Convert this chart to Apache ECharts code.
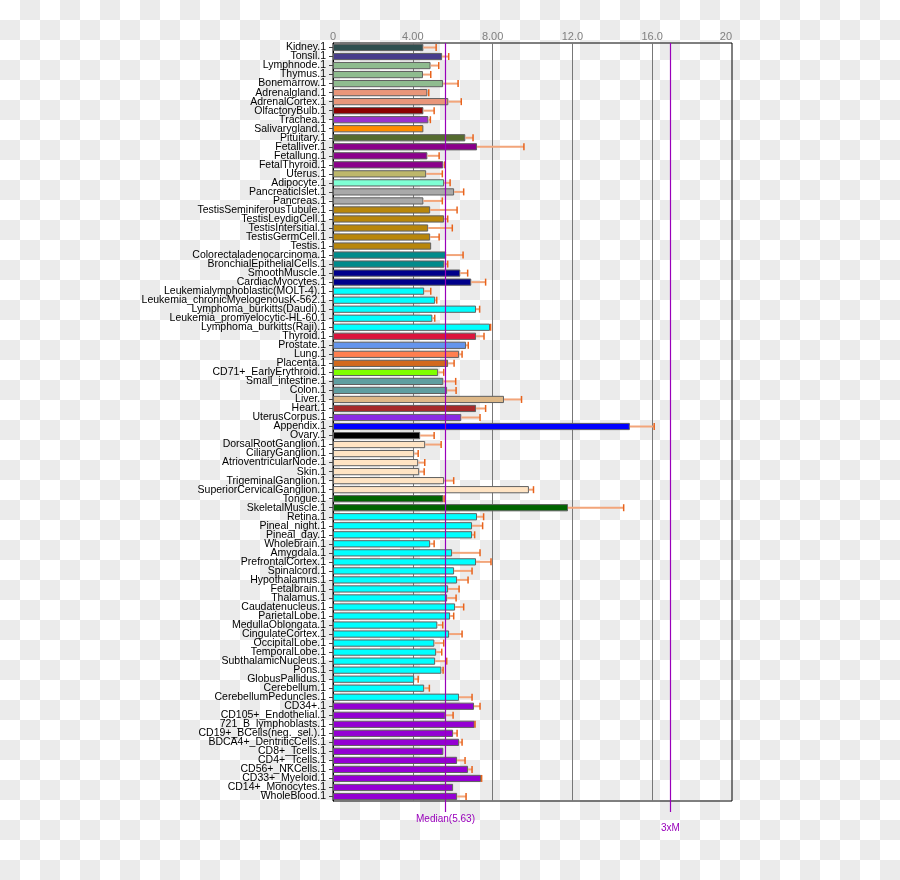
<!DOCTYPE html>
<html>
<head>
<meta charset="utf-8">
<script src="https://cdn.jsdelivr.net/npm/echarts@6/dist/echarts.min.js"></script>
<style>
html,body{margin:0;padding:0;}
body{background:repeating-conic-gradient(#ebebeb 0 25%, #ffffff 0 50%) 0 0/40px 40px;}
#chart{width:900px;height:880px;}
</style>
</head>
<body>
<div id="chart"></div>
<script>
const categories = ["Kidney.1","Tonsil.1","Lymphnode.1","Thymus.1","Bonemarrow.1","Adrenalgland.1","AdrenalCortex.1","OlfactoryBulb.1","Trachea.1","Salivarygland.1","Pituitary.1","Fetalliver.1","Fetallung.1","FetalThyroid.1","Uterus.1","Adipocyte.1","Pancreaticlslet.1","Pancreas.1","TestisSeminiferousTubule.1","TestisLeydigCell.1","TestisIntersitial.1","TestisGermCell.1","Testis.1","Colorectaladenocarcinoma.1","BronchialEpithelialCells.1","SmoothMuscle.1","CardiacMyocytes.1","Leukemialymphoblastic(MOLT-4).1","Leukemia_chronicMyelogenousK-562.1","Lymphoma_burkitts(Daudi).1","Leukemia_promyelocytic-HL-60.1","Lymphoma_burkitts(Raji).1","Thyroid.1","Prostate.1","Lung.1","Placenta.1","CD71+_EarlyErythroid.1","Small_intestine.1","Colon.1","Liver.1","Heart.1","UterusCorpus.1","Appendix.1","Ovary.1","DorsalRootGanglion.1","CiliaryGanglion.1","AtrioventricularNode.1","Skin.1","TrigeminalGanglion.1","SuperiorCervicalGanglion.1","Tongue.1","SkeletalMuscle.1","Retina.1","Pineal_night.1","Pineal_day.1","Wholebrain.1","Amygdala.1","PrefrontalCortex.1","Spinalcord.1","Hypothalamus.1","Fetalbrain.1","Thalamus.1","Caudatenucleus.1","ParietalLobe.1","MedullaOblongata.1","CingulateCortex.1","OccipitalLobe.1","TemporalLobe.1","SubthalamicNucleus.1","Pons.1","GlobusPallidus.1","Cerebellum.1","CerebellumPeduncles.1","CD34+.1","CD105+_Endothelial.1","721_B_lymphoblasts.1","CD19+_BCells(neg._sel.).1","BDCA4+_DentriticCells.1","CD8+_Tcells.1","CD4+_Tcells.1","CD56+_NKCells.1","CD33+_Myeloid.1","CD14+_Monocytes.1","WholeBlood.1"];

const values = [4.53,5.47,4.89,4.51,5.52,4.73,5.78,4.53,4.78,4.53,6.63,7.22,4.73,5.53,4.67,5.57,6.07,4.53,4.87,5.57,4.77,4.87,4.92,5.67,5.58,6.38,6.93,4.57,5.12,7.17,4.98,7.87,7.17,6.67,6.32,5.77,5.27,5.53,5.72,8.57,7.17,6.43,14.88,4.37,4.62,4.07,4.27,4.32,5.57,9.82,5.53,11.78,7.22,6.97,6.97,4.87,5.97,7.17,6.07,6.22,5.77,5.72,6.12,5.87,5.23,5.82,5.08,5.17,5.12,5.43,4.07,4.57,6.32,7.07,5.63,7.10,6.02,6.32,5.53,6.22,6.77,7.42,6.02,6.22];

const errors = [0.64,0.33,0.41,0.39,0.75,0.07,0.65,0.54,0.10,0,0.39,2.35,0.59,0.07,0.81,0.30,0.48,0.95,1.35,0.18,1.21,0.45,0,0.85,0.17,0.37,0.72,0.33,0.08,0.18,0.12,0.03,0.40,0.11,0.15,0.30,0.28,0.62,0.45,0.88,0.48,0.94,1.22,0.70,0.80,0.20,0.33,0.25,0.48,0.23,0.04,2.79,0.33,0.53,0.13,0.20,1.40,0.75,0.90,0.55,0.55,0.45,0.43,0.18,0.27,0.65,0.47,0.28,0.58,0.09,0.20,0.26,0.65,0.30,0.39,0.02,0.20,0.15,0,0.40,0.20,0.03,0,0.45];

const barColors = ["#2F4F4F","#483D8B","#8FBC8F","#8FBC8F","#8FBC8F","#E9967A","#E9967A","#8B0000","#9932CC","#FF8C00","#556B2F","#8B008B","#8B008B","#8B008B","#BDB76B","#7FFFD4","#A9A9A9","#A9A9A9","#B8860B","#B8860B","#B8860B","#B8860B","#B8860B","#008B8B","#008B8B","#00008B","#00008B","#00FFFF","#00FFFF","#00FFFF","#00FFFF","#00FFFF","#DC143C","#6495ED","#FF7F50","#D2691E","#7FFF00","#5F9EA0","#5F9EA0","#DEB887","#A52A2A","#8A2BE2","#0000FF","#000000","#FFE4C4","#FFE4C4","#FFE4C4","#FFE4C4","#FFE4C4","#FFE4C4","#006400","#006400","#00FFFF","#00FFFF","#00FFFF","#00FFFF","#00FFFF","#00FFFF","#00FFFF","#00FFFF","#00FFFF","#00FFFF","#00FFFF","#00FFFF","#00FFFF","#00FFFF","#00FFFF","#00FFFF","#00FFFF","#00FFFF","#00FFFF","#00FFFF","#00FFFF","#9400D3","#9400D3","#9400D3","#9400D3","#9400D3","#9400D3","#9400D3","#9400D3","#9400D3","#9400D3","#9400D3"];

const xTickLabels = ["0","4.00","8.00","12.0","16.0","20"];
const median = 5.63;
const refLines = [[median, "Median(5.63)"], [median * 3, "3xM"]];

const chart = echarts.init(document.getElementById('chart'), null, {renderer: 'canvas'});
const purple = '#9900bb';

const option = {
  backgroundColor: 'transparent',
  animation: false,
  grid: {left: 333, right: 168, top: 43, bottom: 79, show: true, borderColor: '#000', borderWidth: 1, backgroundColor: 'transparent'},
  xAxis: {
    type: 'value', position: 'top', min: 0, max: 20, interval: 4,
    axisLine: {show: false}, axisTick: {show: false},
    axisLabel: {
      fontFamily: 'Liberation Sans, Arial, sans-serif', fontSize: 11, margin: 1,
      formatter: v => xTickLabels[Math.round(v / 4)],
      color: (v) => (v === 0 || v === 20) ? '#000' : '#808080',
      alignMaxLabel: 'right'
    },
    splitLine: {show: true, showMinLine: false, showMaxLine: false, lineStyle: {color: '#777777', width: 1}}
  },
  yAxis: {
    type: 'category', data: categories, inverse: true,
    axisLine: {show: true, lineStyle: {color: '#000'}},
    axisTick: {show: true, alignWithLabel: true, length: 4, lineStyle: {color: '#444'}},
    axisLabel: {fontFamily: 'Liberation Sans, Arial, sans-serif', fontSize: 10.5, color: '#000', margin: 7, interval: 0},
    splitLine: {show: false}
  },
  series: [
    {
      type: 'bar', data: values.map((v, i) => ({value: v, itemStyle: {color: barColors[i]}})),
      barCategoryGap: '20%',
      itemStyle: {borderColor: '#606060', borderWidth: 1},
      z: 2
    },
    {
      type: 'custom', z: 3,
      data: values.map((v, i) => [v, errors[i], i]),
      encode: {x: 0, y: 2},
      renderItem: (params, api) => {
        const v = api.value(0), e = api.value(1), c = api.value(2);
        if (!e) return null;
        const s = api.coord([v, c]);
        const t = api.coord([v + e, c]);
        return {type: 'group', children: [
          {type: 'line', shape: {x1: s[0], y1: s[1], x2: t[0], y2: t[1]}, style: {stroke: '#F2A57A', lineWidth: 2}},
          {type: 'line', shape: {x1: t[0], y1: t[1] - 3.5, x2: t[0], y2: t[1] + 3.5}, style: {stroke: '#E8631C', lineWidth: 1.5}}
        ]};
      }
    },
    {
      type: 'custom', z: 5, clip: false,
      data: refLines.map((r, i) => [r[0], 0, i]),
      encode: {x: 0, y: 1},
      renderItem: (params, api) => {
        const cs = params.coordSys;
        const x = Math.round(api.coord([api.value(0), 0])[0]) + 0.5;
        const idx = api.value(2);
        const bottom = cs.y + cs.height;
        return {type: 'group', children: [
          {type: 'line', shape: {x1: x, y1: cs.y, x2: x, y2: bottom + 11}, style: {stroke: purple, lineWidth: 1.2}},
          {type: 'text', x: x, y: bottom + (idx === 0 ? 18 : 27), style: {text: refLines[idx][1], fill: purple, font: '10px "Liberation Sans", Arial, sans-serif', align: 'center', verticalAlign: 'middle'}}
        ]};
      }
    }
  ]
};
chart.setOption(option);
</script>
</body>
</html>
